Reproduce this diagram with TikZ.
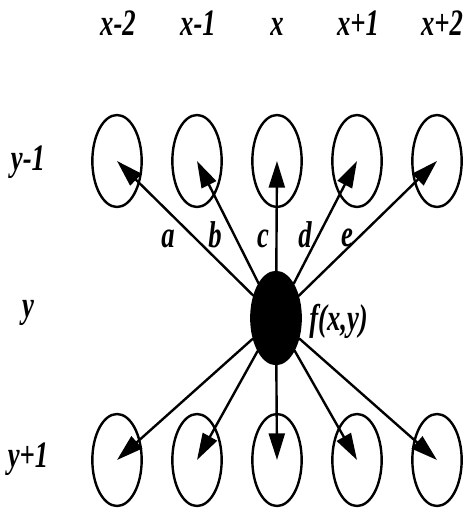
\documentclass[tikz,border=0pt]{standalone}
\usepackage{fontspec}
\setmainfont{Liberation Serif}
\usepackage{graphicx}
\usetikzlibrary{arrows.meta,shapes.geometric}

\newcommand{\tallbl}[1]{\scalebox{1}[1.4]{\bfseries\itshape #1}}

\begin{document}
\begin{tikzpicture}[x=0.75pt,y=-0.75pt,line cap=round,line join=round,
    cell/.style={draw,ellipse,line width=1.8pt,minimum width=37pt,minimum height=69pt,inner sep=0pt},
    pix/.style={cell,fill=black},
    vec/.style={line width=1.8pt,-{Triangle[length=20pt,width=12pt]}},
    lbl/.style={font=\fontsize{20}{20}\selectfont,inner sep=0pt,anchor=base}]
    \useasboundingbox (0,0) rectangle (466,514);
    % column and row labels
    \foreach \n/\t/\px in {h1/x-2/118,h2/x-1/198,h3/x/277,h4/x+1/358,h5/x+2/442}
    \node[lbl] (\n) at (\px,36) {\tallbl{\t}};
    \foreach \n/\t/\py in {r1/y-1/170,r2/y/317,r3/y+1/467}
    \node[lbl] (\n) at (28,\py) {\tallbl{\t}};
    % neighbour cells
    \foreach \i/\px in {1/117,2/197,3/277,4/357,5/437} {
        \node[cell] (t\i) at (\px,161) {};
        \node[cell] (b\i) at (\px,460) {};
    }
    \node[pix] (c) at (276,318) {};
    \node[lbl,anchor=base west] (f) at (309,330) {\tallbl{f(x,y)}};
    % weights
    \foreach \i in {1,...,5} {
        \draw[vec] (c) -- (t\i.center);
        \draw[vec] (c) -- (b\i.center);
    }
    \foreach \n/\t/\px/\py in {wa/a/168/247,wb/b/215/247,wc/c/263/247,wd/d/305/247,we/e/347/246}
    \node[lbl] (\n) at (\px,\py) {\tallbl{\t}};
\end{tikzpicture}
\end{document}
